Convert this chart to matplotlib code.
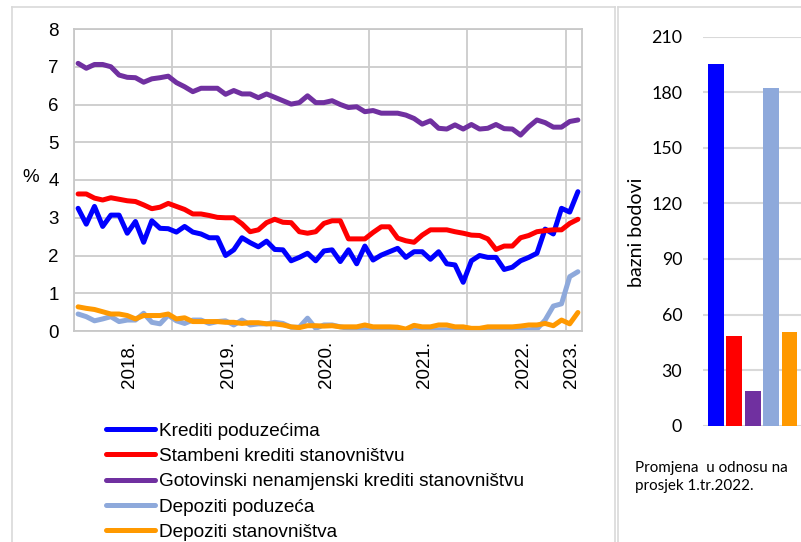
import numpy as np
import matplotlib
matplotlib.use("Agg")
from matplotlib import pyplot as plt
from matplotlib.lines import Line2D

# monthly series, Jan 2018 - Feb 2023 (%)
krediti_poduzecima = [3.25, 2.83, 3.30, 2.77, 3.07, 3.07, 2.59, 2.90, 2.35, 2.92, 2.72, 2.71,
                      2.62, 2.77, 2.62, 2.57, 2.47, 2.47, 2.00, 2.15, 2.47, 2.34, 2.23, 2.38,
                      2.16, 2.15, 1.86, 1.95, 2.06, 1.86, 2.12, 2.15, 1.84, 2.15, 1.78, 2.25,
                      1.88, 2.01, 2.10, 2.19, 1.95, 2.10, 2.10, 1.90, 2.10, 1.78, 1.75, 1.29,
                      1.86, 2.00, 1.95, 1.95, 1.63, 1.69, 1.86, 1.95, 2.06, 2.70, 2.57, 3.25,
                      3.15, 3.69]
stambeni = [3.63, 3.63, 3.52, 3.47, 3.53, 3.49, 3.45, 3.43, 3.34, 3.24, 3.28, 3.38,
            3.30, 3.22, 3.10, 3.10, 3.06, 3.01, 3.00, 3.00, 2.84, 2.63, 2.68, 2.87,
            2.96, 2.88, 2.87, 2.63, 2.59, 2.63, 2.85, 2.92, 2.92, 2.44, 2.44, 2.44,
            2.61, 2.76, 2.76, 2.46, 2.39, 2.35, 2.54, 2.68, 2.68, 2.68, 2.63, 2.59,
            2.54, 2.53, 2.44, 2.16, 2.25, 2.25, 2.47, 2.53, 2.63, 2.66, 2.68, 2.68,
            2.85, 2.96]
gotovinski = [7.09, 6.96, 7.06, 7.06, 7.00, 6.78, 6.72, 6.71, 6.59, 6.68, 6.71, 6.75,
              6.58, 6.47, 6.34, 6.43, 6.43, 6.43, 6.27, 6.37, 6.28, 6.28, 6.18, 6.28,
              6.19, 6.10, 6.01, 6.05, 6.23, 6.05, 6.05, 6.10, 6.00, 5.92, 5.94, 5.81,
              5.84, 5.77, 5.77, 5.77, 5.72, 5.63, 5.48, 5.57, 5.37, 5.35, 5.46, 5.35,
              5.47, 5.35, 5.37, 5.47, 5.36, 5.35, 5.19, 5.41, 5.59, 5.52, 5.40, 5.40,
              5.55, 5.59]
depoziti_poduzeca = [0.45, 0.38, 0.27, 0.32, 0.38, 0.25, 0.29, 0.29, 0.47, 0.23, 0.19, 0.42,
                     0.27, 0.20, 0.29, 0.29, 0.20, 0.25, 0.27, 0.16, 0.29, 0.16, 0.19, 0.19,
                     0.23, 0.20, 0.10, 0.10, 0.34, 0.07, 0.16, 0.16, 0.11, 0.07, 0.05, 0.05,
                     0.03, 0.03, 0.03, 0.03, 0.03, 0.03, 0.03, 0.03, 0.03, 0.03, 0.03, 0.03,
                     0.03, 0.03, 0.03, 0.03, 0.03, 0.03, 0.03, 0.03, 0.05, 0.29, 0.66, 0.72,
                     1.44, 1.57]
depoziti_stanovnistva = [0.64, 0.60, 0.57, 0.51, 0.45, 0.45, 0.41, 0.32, 0.41, 0.41, 0.41, 0.45,
                         0.32, 0.35, 0.25, 0.25, 0.25, 0.25, 0.23, 0.23, 0.20, 0.22, 0.22, 0.19,
                         0.19, 0.16, 0.11, 0.09, 0.14, 0.14, 0.13, 0.14, 0.11, 0.11, 0.11, 0.16,
                         0.11, 0.11, 0.11, 0.10, 0.05, 0.15, 0.11, 0.11, 0.16, 0.16, 0.11, 0.11,
                         0.07, 0.07, 0.11, 0.11, 0.11, 0.11, 0.13, 0.16, 0.16, 0.20, 0.14, 0.29,
                         0.19, 0.49]

year_labels = ["2018.", "2019.", "2020.", "2021.", "2022.", "2023."]
year_label_pos = [6.3, 18.3, 30.3, 42.3, 54.3, 60.2]

labels = ["Krediti poduzećima", "Stambeni krediti stanovništvu",
          "Gotovinski nenamjenski krediti stanovništvu", "Depoziti poduzeća",
          "Depoziti stanovništva"]
colors = ["#0000FF", "#FF0000", "#7030A0", "#8EA9DB", "#FF9900"]

# change vs. Q1 2022 average (basis points)
promjena_bb = [195.5, 48.6, 18.9, 182.5, 50.8]

fig = plt.figure(figsize=(8.01, 5.42), dpi=100)

# panel frames
W, H = 801, 542
def fx(x): return x / W
def fy(y): return 1 - y / H
frame_col = "#D9D9D9"
for seg in [((12, 12), (7, 560)), ((12, 614.5), (7, 7)), ((614.5, 614.5), (7, 560)),
            ((617.5, 617.5), (7, 560)), ((617.5, 810), (7, 7))]:
    fig.add_artist(Line2D([fx(seg[0][0]), fx(seg[0][1])], [fy(seg[1][0]), fy(seg[1][1])],
                          color=frame_col, lw=1.2))

# left chart
ax = fig.add_axes([fx(74), fy(331), fx(582) - fx(74), fy(29) - fy(331)])
series = [krediti_poduzecima, stambeni, gotovinski, depoziti_poduzeca, depoziti_stanovnistva]
x = np.arange(len(krediti_poduzecima))
for s, c, lab in zip(series, colors, labels):
    ax.plot(x, s, color=c, lw=3.6, label=lab, solid_joinstyle="round", solid_capstyle="round")
ax.set_xlim(-0.5, len(x) - 0.5)
ax.set_ylim(0, 8)
ax.set_yticks(range(0, 9))
ax.set_xticks(year_label_pos)
ax.set_xticklabels(year_labels, rotation=90, va="top", ha="center")
ax.set_xticks(np.arange(-0.5, len(x), 12), minor=True)
ax.tick_params(axis="x", which="both", length=0, pad=7)
ax.tick_params(axis="y", length=0, pad=11)
for t in ax.get_xticklabels() + ax.get_yticklabels():
    t.set_fontfamily("Liberation Sans")
    t.set_fontsize(13.5)
ax.grid(True, axis="y", color="#CCCCCC", lw=1.3)
ax.grid(True, axis="x", which="minor", color="#CCCCCC", lw=1.3)
for sp in ax.spines.values():
    sp.set_color("#C8C8C8")
    sp.set_linewidth(1.3)
ax.set_axisbelow(True)
fig.text(fx(22), fy(178), "%", fontsize=13.5, family="Liberation Sans", va="center", ha="left")

leg = fig.legend(loc="upper left", bbox_to_anchor=(fx(106), fy(422.5)), frameon=False,
                 prop={"family": "Liberation Sans", "size": 13.7}, handlelength=2.6,
                 handletextpad=0.2, labelspacing=0.42, borderpad=0, borderaxespad=0)

# right chart
ax2 = fig.add_axes([fx(703), fy(425.7), 1 - fx(703), fy(36.7) - fy(425.7)])
ax2.bar(np.arange(len(promjena_bb)), promjena_bb, width=0.86, color=colors, zorder=3)
ax2.set_xlim(-0.69, 4.62)
ax2.set_ylim(0, 210)
ax2.set_yticks(range(0, 211, 30))
ax2.set_xticks([])
ax2.tick_params(axis="y", length=0, pad=15)
for t in ax2.get_yticklabels():
    t.set_fontfamily("Lato")
    t.set_fontsize(12.8)
ax2.grid(True, axis="y", color="#D9D9D9", lw=1.5, zorder=0)
for sp in ax2.spines.values():
    sp.set_visible(False)
fig.text(fx(637), fy(232), "bazni bodovi", fontsize=14, family="Lato", rotation=90,
         va="center", ha="center")
fig.text(fx(635), fy(477), "Promjena  u odnosu na\nprosjek 1.tr.2022.", fontsize=10.9,
         family="Lato", va="center", ha="left", linespacing=1.3)

fig.savefig("out.png", dpi=100)
